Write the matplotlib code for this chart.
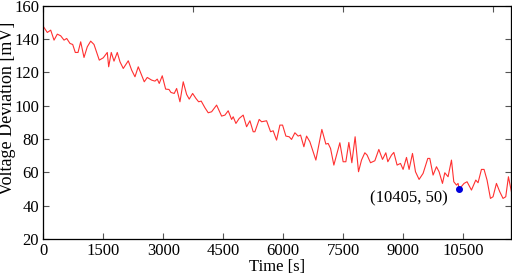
import matplotlib
matplotlib.use("Agg")
import matplotlib.pyplot as plt

plt.rcParams['font.family'] = ['Liberation Serif', 'DejaVu Serif']

# time [s] and voltage deviation [mV]
time_s = [0, 100, 185, 268, 350, 435, 518, 585, 668, 735, 800, 868, 935, 1018,
          1100, 1185, 1268, 1400, 1500, 1600, 1635, 1700, 1768, 1850, 1918, 2000,
          2125, 2210, 2293, 2375, 2460, 2525, 2600, 2710, 2793, 2850, 2900, 2975,
          3060, 3143, 3193, 3275, 3335, 3418, 3500, 3585, 3650, 3735, 3818, 3885,
          3950, 4043, 4125, 4210, 4335, 4460, 4543, 4625, 4710, 4750, 4818, 4900,
          5000, 5085, 5168, 5250, 5293, 5400, 5460, 5585, 5685, 5750, 5835, 5918,
          5985, 6068, 6150, 6210, 6293, 6375, 6435, 6518, 6585, 6668, 6818, 6968,
          7068, 7125, 7185, 7268, 7418, 7500, 7568, 7643, 7718, 7800, 7885, 7960,
          8043, 8100, 8185, 8293, 8393, 8485, 8568, 8618, 8710, 8768, 8850, 8935,
          9000, 9085, 9150, 9235, 9310, 9400, 9500, 9618, 9668, 9750, 9835, 9900,
          9985, 10043, 10125, 10210, 10268, 10335, 10375, 10405, 10525, 10600,
          10710, 10818, 10875, 10960, 11025, 11100, 11185, 11250, 11335, 11418,
          11500, 11568, 11635, 11710]
voltage = [147.6, 144, 145.4, 139.4, 143, 142, 139.4, 140.4, 137.4, 136.8, 132,
           132, 138.4, 129, 135.4, 138.8, 136.8, 127.4, 128.8, 132, 123.4, 132,
           126.8, 132, 126.4, 122.4, 127, 121.4, 117.4, 123.4, 118.4, 114.4, 117,
           115.4, 114.8, 116, 113.4, 118, 110, 109.8, 108, 107.4, 110.4, 102.4,
           114.4, 106.8, 104, 107.4, 104.4, 102.4, 102.8, 98.8, 95.8, 96.4, 100.4,
           93.8, 94.4, 97, 91.8, 93.4, 89.4, 92.4, 94.4, 87.4, 91, 84.4, 84.4,
           91.8, 90.4, 91, 84.4, 85, 79.4, 88.4, 88.4, 81.8, 81.4, 79.8, 83.8,
           81.8, 82.4, 75.4, 81.8, 78.4, 67.4, 85.8, 77, 77.4, 74.4, 64.4, 77.8,
           66.4, 66.4, 78, 65.8, 81.4, 60.4, 67.4, 71.8, 70.4, 65.8, 67, 73.8,
           67.8, 71.8, 66.4, 70.4, 72, 64.4, 65.4, 61.8, 69, 61.8, 71.4, 60.4,
           55.8, 59.4, 68.4, 68.4, 58.4, 63.4, 60.4, 53.4, 59.8, 57.4, 67.4, 54.4,
           52.4, 53.4, 50, 53.4, 54.4, 49.4, 55.4, 53.8, 61.8, 61.8, 55.4, 44.4,
           45.4, 53.4, 48.4, 44.4, 45.4, 57.4, 48.4]

marker_t = 10405
marker_v = 50
x_ticks = [0, 1500, 3000, 4500, 6000, 7500, 9000, 10500]
top_ticks = [0, 3750, 7500, 11250]
y_ticks = [20, 40, 60, 80, 100, 120, 140, 160]

edge = '#555555'
fig = plt.figure(figsize=(5.12, 2.77), dpi=100)
ax = fig.add_axes([0.0846, 0.137, 0.9135, 0.842])
ax.plot(time_s, voltage, color='#ff3030', lw=0.8)
ax.plot([marker_t], [marker_v], 'o', color='#0000dd', ms=4)
ax.text(10120, 44.6, '(10405, 50)', ha='right', va='center', fontsize=12)

ax.set_xlim(0, 11700)
ax.set_ylim(20, 160)
ax.set_xticks(x_ticks)
ax.set_yticks(y_ticks)
ax.tick_params(direction='in', length=4, width=0.8, color=edge, labelsize=12,
               right=True, pad=3)
ax.set_xlabel('Time [s]', fontsize=12, labelpad=0)
ax.set_ylabel('Voltage Deviation [mV]', fontsize=13)
ax.yaxis.set_label_coords(-0.058, 0.56)
for s in ax.spines.values():
    s.set_color(edge)
    s.set_linewidth(0.9)

ax_top = ax.twiny()
ax_top.set_xlim(0, 11700)
ax_top.set_xticks(top_ticks)
ax_top.tick_params(direction='in', length=4, width=0.8, color=edge, labeltop=False)

fig.savefig('out.png', dpi=100)
